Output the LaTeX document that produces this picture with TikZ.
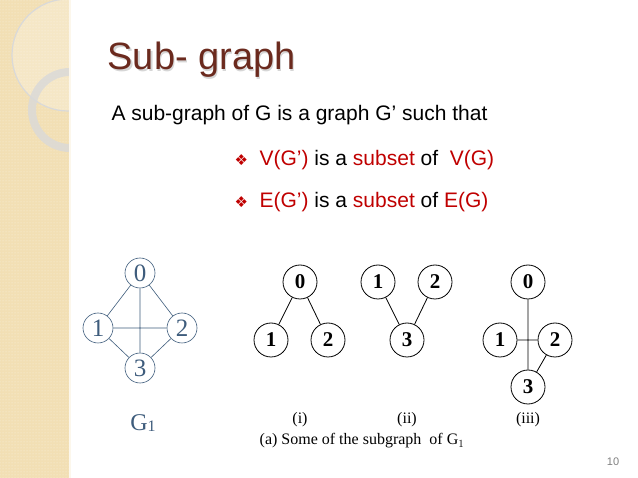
\documentclass[tikz,border=0pt]{standalone}
\usepackage{fontspec}
\setmainfont{Liberation Sans}
\newfontfamily\serifx{Liberation Serif}
\newfontfamily\dejavu{DejaVu Sans}
\usetikzlibrary{patterns}
\definecolor{strip}{HTML}{F2DFB4}
\definecolor{title}{HTML}{6B2A1E}
\definecolor{red}{HTML}{C00000}
\definecolor{gblue}{HTML}{3E5C7C}
\tikzset{
 gv/.style={circle,draw=gblue,semithick,minimum size=30pt,inner sep=0pt,font=\serifx\fontsize{25}{25}\selectfont,text=gblue},
 ge/.style={draw=gblue,semithick},
 sv/.style={circle,draw=black,thick,minimum size=34pt,inner sep=0pt,font=\serifx\bfseries\fontsize{21}{21}\selectfont},
 se/.style={draw=black,thick},
 lab/.style={font=\serifx\fontsize{16}{16}\selectfont}
}
\begin{document}
\begin{tikzpicture}[x=1pt,y=-1pt]
\useasboundingbox (0,0) rectangle (638,478);
\fill[white] (0,0) rectangle (638,478);
\fill[strip] (0,0) rectangle (70,478);
\fill[pattern=dots,pattern color=white!60!strip] (0,0) rectangle (70,478);
\begin{scope}
\clip (0,0) rectangle (70,478);
\fill[white,opacity=0.25] (68,55) circle (56);
\draw[white!85!black,line width=1.2pt] (68,55) circle (56);
\draw[white!85!black,opacity=0.8,line width=8pt] (70,110) circle (38);
\end{scope}
\draw[white!75!strip,line width=1.5pt] (70,0) -- (70,478);
% title and text
\node[anchor=west,text=black!40,opacity=0.4,font=\fontsize{38}{38}\selectfont] at (105.5,61.5) {Sub- graph};
\node[anchor=west,text=title,font=\fontsize{38}{38}\selectfont] (t) at (104,60) {Sub- graph};
\node[anchor=west,font=\fontsize{21}{21}\selectfont] (d) at (108,115) {A sub-graph of G is a graph G’ such that};
\node[anchor=west,font=\fontsize{21}{21}\selectfont] (b1) at (231,160) {\textcolor{red}{\dejavu\fontsize{15}{15}\selectfont ❖}\ \ \textcolor{red}{V(G’)} is a \textcolor{red}{subset} of\ \ \textcolor{red}{V(G)}};
\node[anchor=west,font=\fontsize{21}{21}\selectfont] (b2) at (231,202) {\textcolor{red}{\dejavu\fontsize{15}{15}\selectfont ❖}\ \ \textcolor{red}{E(G’)} is a \textcolor{red}{subset} of \textcolor{red}{E(G)}};
% G1
\node[gv] (a0) at (140,273) {0};
\node[gv] (a1) at (98,328) {1};
\node[gv] (a2) at (182,328) {2};
\node[gv] (a3) at (140,368) {3};
\draw[ge] (a0)--(a1) (a0)--(a2) (a0)--(a3) (a1)--(a2) (a1)--(a3) (a2)--(a3);
\node[text=gblue,font=\serifx\fontsize{24}{24}\selectfont] (g1) at (143,423) {G\raisebox{-1pt}{\fontsize{16}{16}\selectfont 1}};
% (i)
\node[sv] (i0) at (300,282) {0};
\node[sv] (i1) at (271,340) {1};
\node[sv] (i2) at (328,340) {2};
\draw[se] (i0)--(i1) (i0)--(i2);
% (ii)
\node[sv] (j1) at (378,282) {1};
\node[sv] (j2) at (435,282) {2};
\node[sv] (j3) at (407,340) {3};
\draw[se] (j1)--(j3) (j2)--(j3);
% (iii)
\node[sv] (k0) at (528,282) {0};
\node[sv] (k1) at (500,340) {1};
\node[sv] (k2) at (555,340) {2};
\node[sv] (k3) at (528,387) {3};
\draw[se] (k0)--(k3) (k1)--(k2) (k2)--(k3);
\node[lab] (li) at (300,420) {(i)};
\node[lab] (lii) at (407,420) {(ii)};
\node[lab] (liii) at (528,420) {(iii)};
\node[lab] (cap) at (362,441) {(a) Some of the subgraph\ \ of G$_1$};
\node[text=black!50,font=\fontsize{11}{11}\selectfont] (pn) at (613,462) {10};
\end{tikzpicture}
\end{document}
